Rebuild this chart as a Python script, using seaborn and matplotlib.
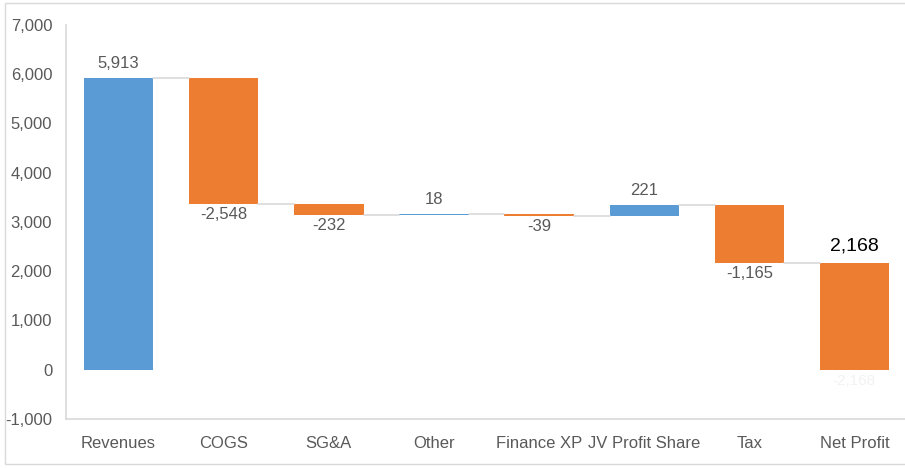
import numpy as np
import matplotlib
matplotlib.use("Agg")
import matplotlib.pyplot as plt
import seaborn as sns
from matplotlib.patches import Rectangle

# waterfall data
categories = ['Revenues', 'COGS', 'SG&A', 'Other', 'Finance XP', 'JV Profit Share', 'Tax', 'Net Profit']
changes = [5913, -2548, -232, 18, -39, 221, -1165, -2168]
yticks = [-1000, 0, 1000, 2000, 3000, 4000, 5000, 6000, 7000]

blue = '#5B9BD5'
orange = '#ED7D31'
grey_txt = '#595959'

sns.set_style('white')
plt.rcParams['font.family'] = ['Liberation Sans', 'DejaVu Sans']

# running totals -> bar bases
starts = np.concatenate([[0], np.cumsum(changes)[:-1]])
ends = starts + np.array(changes)

fig = plt.figure(figsize=(9.05, 4.68), dpi=100)
ax = fig.add_axes([0.073, 0.105, 0.935, 0.842])

w = 0.66
sns.barplot(x=categories, y=changes, bottom=starts, color=blue, width=w,
            linewidth=0, ax=ax)

# orange for decreases
for p, v in zip(ax.patches, changes):
    p.set_facecolor(blue if v > 0 else orange)

# connector lines
for i in range(len(categories) - 1):
    ax.plot([i + w / 2, i + 1 - w / 2], [ends[i], ends[i]], color='#d9d9d9', lw=1.2, zorder=1)

# data labels
last = len(categories) - 1
for i, (v, s, e) in enumerate(zip(changes, starts, ends)):
    txt = f'{v:,}'
    if i == last:
        ax.annotate(f'{-v:,}', (i, s), xytext=(0, 6), textcoords='offset points',
                    ha='center', va='bottom', fontsize=14, color='black')
        ax.annotate(txt, (i, e), xytext=(0, -3), textcoords='offset points',
                    ha='center', va='top', fontsize=11, color='#f2f2f2')
    elif v > 0:
        ax.annotate(txt, (i, e), xytext=(0, 5), textcoords='offset points',
                    ha='center', va='bottom', fontsize=12, color=grey_txt)
    else:
        ax.annotate(txt, (i, e), xytext=(0, -2), textcoords='offset points',
                    ha='center', va='top', fontsize=12, color=grey_txt)

ax.set_ylim(-1000, 7000)
ax.set_xlim(-0.5, 7.55)
ax.set_yticks(yticks)
ax.set_yticklabels([f'{t:,}' for t in yticks])
ax.tick_params(axis='both', length=0, labelsize=12, labelcolor=grey_txt)
ax.tick_params(axis='x', pad=12)
ax.tick_params(axis='y', pad=10)

for side in ['top', 'right']:
    ax.spines[side].set_visible(False)
for side in ['left', 'bottom']:
    ax.spines[side].set_color('#d9d9d9')
    ax.spines[side].set_linewidth(1.2)

# outer chart frame
fig.patches.append(Rectangle((0.006, 0.008), 1.2, 0.985, transform=fig.transFigure,
                             fill=False, edgecolor='#d9d9d9', lw=1))

fig.savefig('out.png', dpi=100)
